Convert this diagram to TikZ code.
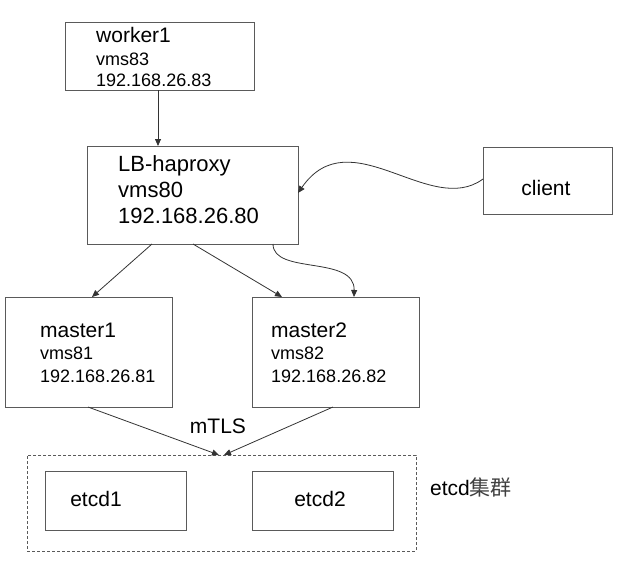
\documentclass[tikz,border=0pt]{standalone}
\usepackage{fontspec}
\setmainfont{Liberation Sans}
\newfontfamily\cjkfont{Noto Sans CJK SC}
\usetikzlibrary{arrows.meta}
\definecolor{boxc}{HTML}{5A5A5A}
\definecolor{linec}{HTML}{333333}
\begin{document}
\begin{tikzpicture}[x=1pt,y=-1pt,
  boxst/.style={draw=boxc,line width=0.9pt,inner sep=0pt},
  big/.style={font=\fontsize{21}{25}\selectfont,inner sep=0pt},
  small/.style={font=\fontsize{18}{21}\selectfont,inner sep=0pt},
  lbf/.style={font=\fontsize{22}{26}\selectfont,inner sep=0pt},
  conn/.style={draw=linec,line width=0.8pt,-{Triangle[length=7pt,width=6pt]}}]
\useasboundingbox (0,0) rectangle (625,563);
% boxes
\node[boxst,minimum width=189pt,minimum height=68pt] (w1) at (159.5,56) {};
\node[boxst,minimum width=211pt,minimum height=98pt] (lb) at (192.5,195) {};
\node[boxst,minimum width=129pt,minimum height=67pt] (cl) at (547.5,180.5) {};
\node[boxst,minimum width=167pt,minimum height=110pt] (m1) at (88.5,352) {};
\node[boxst,minimum width=167pt,minimum height=110pt] (m2) at (335.5,352) {};
\node[draw=boxc,dash pattern=on 3pt off 2pt,line width=0.7pt,inner sep=0pt,minimum width=389pt,minimum height=96pt] (grp) at (221.5,503) {};
\node[boxst,minimum width=141pt,minimum height=59pt] (e1) at (115.5,500.5) {};
\node[boxst,minimum width=141pt,minimum height=59pt] (e2) at (322.5,500.5) {};
% texts
\node[big,anchor=base west] (w1a) at (96,42) {worker1};
\node[small,anchor=base west] (w1b) at (96,65) {vms83};
\node[small,anchor=base west] (w1c) at (96,86) {192.168.26.83};
\node[lbf,anchor=base west] (lba) at (118,171) {LB-haproxy};
\node[lbf,anchor=base west] (lbb) at (118,197) {vms80};
\node[lbf,anchor=base west] (lbc) at (118,223) {192.168.26.80};
\node[big,anchor=base] (clt) at (546,195) {client};
\node[big,anchor=base west] (m1a) at (40,337) {master1};
\node[small,anchor=base west] (m1b) at (40,359) {vms81};
\node[small,anchor=base west] (m1c) at (40,382) {192.168.26.81};
\node[big,anchor=base west] (m2a) at (271,337) {master2};
\node[small,anchor=base west] (m2b) at (271,359) {vms82};
\node[small,anchor=base west] (m2c) at (271,382) {192.168.26.82};
\node[big,anchor=base] (mtls) at (218,433) {mTLS};
\node[big,anchor=base] (e1t) at (96,506) {etcd1};
\node[big,anchor=base] (e2t) at (320,506) {etcd2};
\node[big,anchor=base west] (grpt) at (430,495) {etcd{\cjkfont\color{black!75}集群}};
% coordinates on borders
\coordinate (w1s) at (158,90);
\coordinate (lbn) at (158,146);
\coordinate (lbs1) at (152,244);
\coordinate (lbs2) at (193,244);
\coordinate (lbs3) at (273,244);
\coordinate (lbe) at (298,193);
\coordinate (clw) at (483,179);
\coordinate (m1n) at (92,297);
\coordinate (m2n1) at (282,297);
\coordinate (m2n2) at (354,297);
\coordinate (m1s) at (88,407);
\coordinate (m2s) at (333,407);
\coordinate (g1) at (219,455);
\coordinate (g2) at (224,455);
% connectors
\draw[conn] (w1s) -- (lbn);
\draw[conn] (lbs1) -- (m1n);
\draw[conn] (lbs2) -- (m2n1);
\draw[conn] (lbs3) .. controls (273,275) and (355,255) .. (m2n2);
\draw[conn] (clw) .. controls (430,218) and (350,118) .. (lbe);
\draw[conn] (m1s) -- (g1);
\draw[conn] (m2s) -- (g2);
\end{tikzpicture}
\end{document}
